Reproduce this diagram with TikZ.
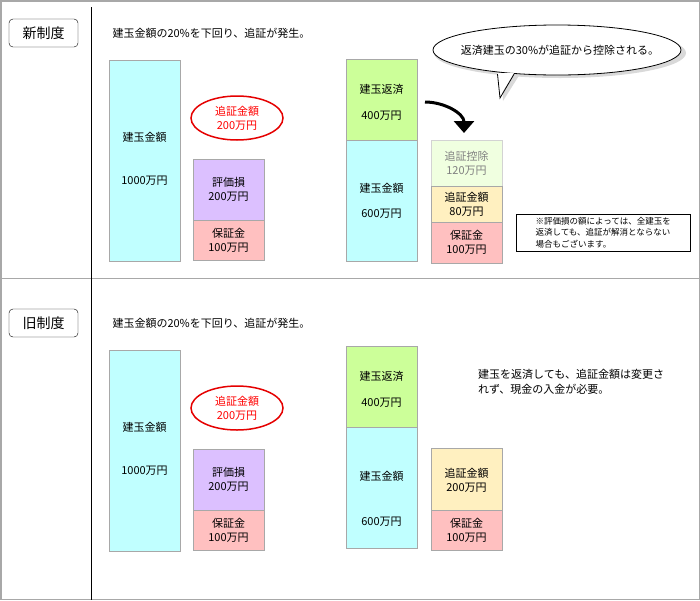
\documentclass[tikz,border=0pt]{standalone}
\usepackage{fontspec}
\setmainfont{Noto Sans CJK JP}
\usetikzlibrary{arrows.meta}
\definecolor{cy}{HTML}{C0FFFF}\definecolor{pu}{HTML}{DCC0FF}\definecolor{pk}{HTML}{FFC0C0}
\definecolor{gr}{HTML}{CCFF99}\definecolor{ye}{HTML}{FFF0C0}\definecolor{pg}{HTML}{F0FFE0}
\definecolor{bd}{HTML}{A8A8A8}
\begin{document}
\begin{tikzpicture}[x=1pt,y=-1pt,font=\fontsize{11}{14}\selectfont,
 bar/.style={draw=bd,line width=1pt,align=center},
 lbl/.style={draw,rounded corners=4pt,minimum width=69pt,minimum height=28pt,font=\fontsize{14}{16}\selectfont,inner sep=0pt}]
\useasboundingbox (0,0) rectangle (700,600);
\draw[bd,line width=1.5pt] (0.75,0.75) rectangle (699.25,599.25);
\draw[line width=1pt] (91,7) -- (91,600);
\draw[bd,line width=1pt] (0,278) -- (700,278);
\draw[line width=1pt] (91,278) -- (91,600);
\foreach \o/\t/\lt in {0/新制度/n,290/旧制度/o}{
 \node[lbl] (lab\lt) at (43.5,33+\o) {\t};
 \node[anchor=west] (tt\lt) at (109,33+\o) {建玉金額の20\%を下回り、追証が発生。};
 \filldraw[bar,fill=cy] (109,60+\o) rectangle (180,261+\o);
 \node (a\lt) at (144.5,137+\o) {建玉金額};
 \node (b\lt) at (144.5,181+\o) {1000万円};
 \draw[red!90!black,line width=1.5pt,fill=white] (237,118+\o) ellipse[x radius=46,y radius=22];
 \node[red,align=center,inner sep=0pt] (e\lt) at (237,118+\o) {追証金額\\200万円};
 \filldraw[bar,fill=pu] (193,159+\o) rectangle (264,220+\o);
 \node[align=center,inner sep=0pt] (p\lt) at (228.5,189+\o) {評価損\\200万円};
 \filldraw[bar,fill=pk] (193,220+\o) rectangle (264,260+\o);
 \node[align=center,inner sep=0pt] (k\lt) at (228.5,240+\o) {保証金\\100万円};
}
% top right
\filldraw[bar,fill=gr] (346,59) rectangle (417,140);
\node (g1) at (381.5,89) {建玉返済};
\node (g2) at (381.5,116) {400万円};
\filldraw[bar,fill=cy] (346,140) rectangle (417,261);
\node (c1) at (381.5,188) {建玉金額};
\node (c2) at (381.5,214) {600万円};
\filldraw[draw=bd!50,line width=1pt,fill=pg] (431,140) rectangle (502,186);
\node[gray,align=center,inner sep=0pt] (d1) at (466.5,163) {追証控除\\120万円};
\filldraw[bar,fill=ye] (431,186) rectangle (502,222);
\node[align=center,inner sep=0pt] (y1) at (466.5,204) {追証金額\\80万円};
\filldraw[bar,fill=pk] (431,222) rectangle (502,263);
\node[align=center,inner sep=0pt] (k2) at (466.5,242) {保証金\\100万円};
\coordinate (s) at (425,102);
\coordinate (t) at (464,133);
\draw[line width=3pt,-{Triangle[length=12pt,width=20pt]}] (s) to[out=0,in=90] (t);
\node[draw,fill=white,align=left,inner sep=3pt,font=\fontsize{8.5}{11.5}\selectfont,anchor=north west,minimum width=174pt] (note) at (516,214) {※評価損の額によっては、全建玉を\\返済しても、追証が解消とならない\\場合もございます。};
% callout
\fill[black!15] (560,53) ellipse[x radius=126,y radius=25];
\fill[black!15] (502,72) -- (503,101) -- (520,74) -- cycle;
\draw[fill=white,line width=0.8pt] (557,50) ellipse[x radius=124,y radius=25];
\fill[white] (497.5,73) -- (500,96) -- (514,73) -- cycle;
\draw[line width=0.8pt] (497.5,74.2) -- (500,98) -- (514,74.2);
\node (cl) at (560,50) {返済建玉の30\%が追証から控除される。};
% bottom right
\filldraw[bar,fill=gr] (346,346) rectangle (417,427);
\node (g3) at (381.5,376) {建玉返済};
\node (g4) at (381.5,403) {400万円};
\filldraw[bar,fill=cy] (346,427) rectangle (417,548);
\node (c3) at (381.5,476) {建玉金額};
\node (c4) at (381.5,522) {600万円};
\filldraw[bar,fill=ye] (431,448) rectangle (502,510);
\node[align=center,inner sep=0pt] (y2) at (466.5,480) {追証金額\\200万円};
\filldraw[bar,fill=pk] (431,510) rectangle (502,550);
\node[align=center,inner sep=0pt] (k3) at (466.5,530) {保証金\\100万円};
\node[anchor=north west,align=left,inner sep=0pt,font=\fontsize{11}{15}\selectfont] (msg) at (478,369) {建玉を返済しても、追証金額は変更さ\\れず、現金の入金が必要。};
\end{tikzpicture}
\end{document}
